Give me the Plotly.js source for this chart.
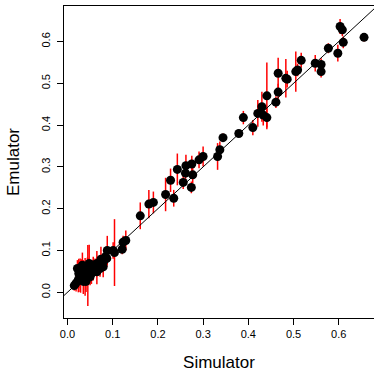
<!DOCTYPE html>
<html>
<head>
<meta charset="utf-8">
<script src="https://cdn.plot.ly/plotly-3.0.1.min.js"></script>
<style>html,body{margin:0;padding:0;overflow:hidden;background:#fff}</style>
</head>
<body>
<div id="chart" style="width:374px;height:372px"></div>
<script>
// Simulator (x), Emulator mean (y), emulator error half-width (err)
var simulator = [0.656,0.603,0.608,0.610,0.598,0.577,0.548,0.561,0.561,0.517,0.509,0.505,0.483,0.486,0.466,0.466,0.461,0.441,0.430,0.421,0.433,0.441,0.410,0.389,0.379,0.344,0.337,0.332,0.300,0.291,0.275,0.262,0.261,0.277,0.256,0.274,0.243,0.228,0.235,0.217,0.190,0.180,0.161,0.129,0.123,0.121,0.104,0.101,
  0.088,0.084,0.081,0.074,0.072,0.065,0.061,0.057,0.048,0.046,0.042,0.045,0.050,0.035,0.031,0.028,0.022,0.024,0.019,0.015,0.035,0.065,0.072,0.053,0.039,0.029,0.044,0.057,0.079,0.087,0.033,0.025,0.041,0.050];
var emulator = [0.610,0.636,0.628,0.598,0.572,0.584,0.548,0.545,0.528,0.555,0.532,0.528,0.512,0.510,0.524,0.479,0.455,0.470,0.444,0.428,0.424,0.418,0.394,0.418,0.380,0.370,0.341,0.325,0.325,0.317,0.307,0.303,0.285,0.281,0.263,0.251,0.294,0.268,0.225,0.234,0.215,0.211,0.183,0.124,0.120,0.103,0.095,0.100,
  0.100,0.085,0.076,0.079,0.069,0.069,0.061,0.053,0.069,0.061,0.045,0.040,0.037,0.057,0.049,0.041,0.057,0.030,0.022,0.016,0.026,0.049,0.057,0.045,0.037,0.034,0.053,0.065,0.061,0.081,0.065,0.045,0.026,0.049];
var errHalf = [0.010,0.018,0.015,0.014,0.020,0.012,0.020,0.015,0.014,0.018,0.015,0.048,0.046,0.020,0.037,0.020,0.014,0.080,0.036,0.032,0.025,0.024,0.018,0.016,0.008,0.010,0.020,0.032,0.024,0.020,0.020,0.026,0.018,0.020,0.016,0.014,0.038,0.028,0.020,0.040,0.026,0.034,0.032,0.024,0.015,0.012,0.080,0.020,
  0.035,0.020,0.015,0.030,0.015,0.030,0.020,0.025,0.045,0.020,0.025,0.073,0.020,0.020,0.030,0.040,0.020,0.030,0.020,0.012,0.030,0.030,0.020,0.025,0.045,0.035,0.030,0.020,0.025,0.020,0.030,0.035,0.025,0.020];
var identityLine = [-0.1, 0.8];
var tickVals = [0, 0.1, 0.2, 0.3, 0.4, 0.5, 0.6];
var tickText = ['0.0','0.1','0.2','0.3','0.4','0.5','0.6'];

var font = 'Liberation Sans, Arial, Helvetica, sans-serif';

var traces = [
  {
    x: simulator, y: emulator, type: 'scatter', mode: 'markers',
    marker: {color: 'rgba(0,0,0,0)', size: 1},
    error_y: {type: 'data', array: errHalf, visible: true, color: '#ff0000', thickness: 1.5, width: 0},
    hoverinfo: 'skip', showlegend: false
  },
  {
    x: identityLine, y: identityLine, type: 'scatter', mode: 'lines',
    line: {color: '#000', width: 1}, showlegend: false, hoverinfo: 'skip'
  },
  {
    x: simulator, y: emulator, type: 'scatter', mode: 'markers',
    marker: {color: '#000', size: 9}, showlegend: false
  }
];

var layout = {
  width: 374, height: 372,
  margin: {l: 64, r: 0, t: 6, b: 54},
  paper_bgcolor: '#fff', plot_bgcolor: '#fff',
  font: {family: font, size: 11, color: '#000'},
  xaxis: {
    range: [-0.0077, 0.678], tickvals: tickVals, ticktext: tickText,
    showgrid: false, zeroline: false, showline: true, mirror: true,
    linecolor: '#000', linewidth: 1, ticks: 'outside', ticklen: 6, tickcolor: '#000',
    tickfont: {family: font, size: 11, color: '#000'},
    title: {text: 'Simulator', font: {family: font, size: 17, color: '#000'}, standoff: 16},
    automargin: false
  },
  yaxis: {
    range: [-0.0615, 0.685], tickvals: tickVals, ticktext: tickText, tickangle: -90,
    showgrid: false, zeroline: false, showline: true, mirror: false,
    linecolor: '#000', linewidth: 1, ticks: 'outside', ticklen: 6, tickcolor: '#000',
    ticklabelstandoff: 3,
    tickfont: {family: font, size: 11, color: '#000'},
    title: {text: 'Emulator', font: {family: font, size: 17, color: '#000'}, standoff: 15},
    automargin: false
  }
};

Plotly.newPlot('chart', traces, layout, {staticPlot: true, displayModeBar: false});
</script>
</body>
</html>
